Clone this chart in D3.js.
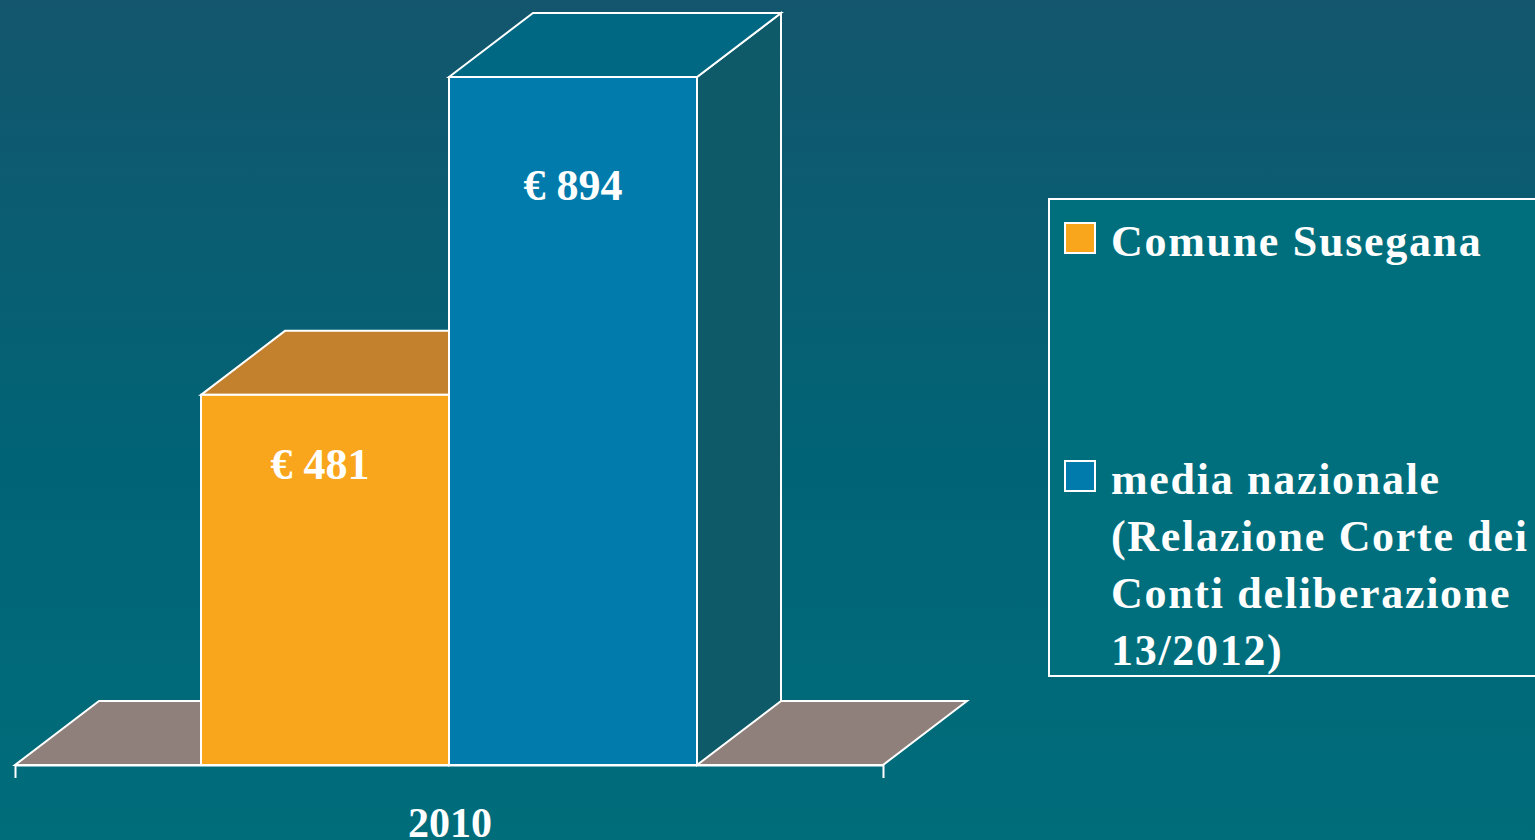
<!DOCTYPE html>
<html>
<head>
<meta charset="utf-8">
<script src="https://cdn.jsdelivr.net/npm/d3@7"></script>
<style>
  html, body { margin: 0; padding: 0; overflow: hidden; background: #006c7a; }
  svg { display: block; }
  text { font-family: "Liberation Serif", serif; font-weight: bold; fill: #fff; }
</style>
</head>
<body>
<div id="chart"></div>
<script>
var categories = ["2010"];
var seriesNames = ["Comune Susegana", "media nazionale"];
var seriesValues = [481, 894];
var valueLabels = ["€ 481", "€ 894"];
var legendLines = [
  ["Comune Susegana"],
  ["media nazionale", "(Relazione Corte dei", "Conti deliberazione", "13/2012)"]
];
var frontColors = ["#f9a61c", "#007bac"];
var topColors = ["#c4812d", "#006882"];
var sideColors = ["#9a6a26", "#0f5a68"];

var width = 1535;
var height = 840;
var depthX = 84;
var depthY = 64;
var lineW = 2;

var svg = d3.select("#chart")
  .append("svg")
  .attr("width", width)
  .attr("height", height);

var grad = svg.append("defs")
  .append("linearGradient")
  .attr("id", "bg")
  .attr("x1", 0).attr("y1", 0)
  .attr("x2", 0).attr("y2", 1);
grad.append("stop").attr("offset", "0%").attr("stop-color", "#13566d");
grad.append("stop").attr("offset", "55%").attr("stop-color", "#016476");
grad.append("stop").attr("offset", "100%").attr("stop-color", "#006d7b");

svg.append("rect")
  .attr("width", width)
  .attr("height", height)
  .attr("fill", "url(#bg)");

var x = d3.scaleBand().domain(categories).range([15, 883]);
var xSeries = d3.scaleBand().domain(seriesNames).range([201, 697]);
// 894 sits at y=77, baseline at y=765
var y = d3.scaleLinear().domain([0, 894]).range([765, 77]);

function poly(points) {
  return points.map(function (p) { return p.join(","); }).join(" ");
}

// floor
svg.append("polygon")
  .attr("points", poly([
    [x.range()[0], y(0)],
    [x.range()[0] + depthX, y(0) - depthY],
    [x.range()[1] + depthX, y(0) - depthY],
    [x.range()[1], y(0)]
  ]))
  .attr("fill", "#8f807c")
  .attr("stroke", "#fff")
  .attr("stroke-width", lineW);

var bars = svg.selectAll("g.bar")
  .data(seriesValues)
  .enter()
  .append("g")
  .attr("class", "bar");

bars.each(function (d, i) {
  var g = d3.select(this);
  var x0 = xSeries(seriesNames[i]);
  var x1 = x0 + xSeries.bandwidth();

  g.append("polygon")
    .attr("points", poly([
      [x1, y(d)],
      [x1 + depthX, y(d) - depthY],
      [x1 + depthX, y(0) - depthY],
      [x1, y(0)]
    ]))
    .attr("fill", sideColors[i])
    .attr("stroke", "#fff")
    .attr("stroke-width", lineW);

  g.append("polygon")
    .attr("points", poly([
      [x0, y(d)],
      [x0 + depthX, y(d) - depthY],
      [x1 + depthX, y(d) - depthY],
      [x1, y(d)]
    ]))
    .attr("fill", topColors[i])
    .attr("stroke", "#fff")
    .attr("stroke-width", lineW);

  g.append("rect")
    .attr("x", x0)
    .attr("y", y(d))
    .attr("width", xSeries.bandwidth())
    .attr("height", y(0) - y(d))
    .attr("fill", frontColors[i])
    .attr("stroke", "#fff")
    .attr("stroke-width", lineW);
});

// value labels go on top of everything, hand placed like the original slide
var labelNudgeX = [-5, 0];
var labelNudgeY = [84, 123];
bars.append("text")
  .attr("x", function (d, i) {
    return xSeries(seriesNames[i]) + xSeries.bandwidth() / 2 + labelNudgeX[i];
  })
  .attr("y", function (d, i) { return y(d) + labelNudgeY[i]; })
  .attr("text-anchor", "middle")
  .attr("font-size", 44)
  .text(function (d, i) { return valueLabels[i]; });

// axis: only the outer ticks show, the category label sits in the middle
var axis = svg.append("g")
  .attr("transform", "translate(0," + y(0) + ")")
  .call(d3.axisBottom(x).tickSizeInner(0).tickSizeOuter(13).tickPadding(42));
axis.select(".domain").attr("stroke", "#fff").attr("stroke-width", lineW);
axis.selectAll("text")
  .attr("dx", 1)
  .attr("font-size", 42)
  .style("font-family", "'Liberation Serif', serif")
  .style("font-weight", "bold");

// legend
var legend = svg.append("g");
legend.append("rect")
  .attr("x", 1049)
  .attr("y", 199)
  .attr("width", 520)
  .attr("height", 477)
  .attr("fill", "#006f7d")
  .attr("stroke", "#fff")
  .attr("stroke-width", lineW);

var legendTop = [223, 461];
var lineStep = 57;
legendLines.forEach(function (lines, i) {
  legend.append("rect")
    .attr("x", 1065)
    .attr("y", legendTop[i])
    .attr("width", 30)
    .attr("height", 30)
    .attr("fill", frontColors[i])
    .attr("stroke", "#fff")
    .attr("stroke-width", lineW);
  lines.forEach(function (line, j) {
    legend.append("text")
      .attr("x", 1111)
      .attr("y", legendTop[i] + 33 + j * lineStep)
      .attr("font-size", 44)
      .attr("letter-spacing", 1.7)
      .text(line);
  });
});
</script>
</body>
</html>
